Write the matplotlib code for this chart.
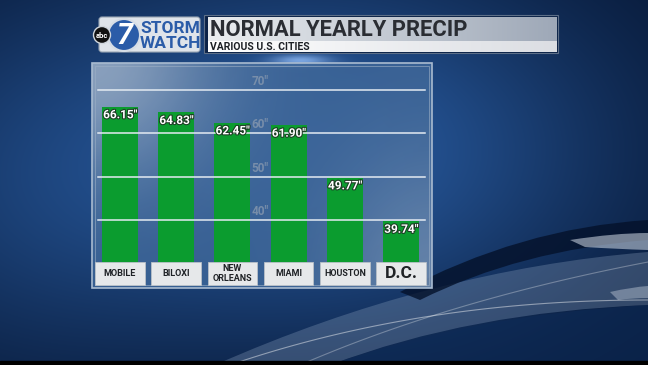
import numpy as np
import matplotlib.pyplot as plt
from matplotlib.patches import Rectangle, FancyBboxPatch, Circle, PathPatch
from matplotlib.path import Path
import matplotlib.patheffects as pe

W, H = 648, 365
FONT = 'Roboto'

CITIES = ['MOBILE', 'BILOXI', 'NEW\nORLEANS', 'MIAMI', 'HOUSTON', 'D.C.']
PRECIP = [66.15, 64.83, 62.45, 61.90, 49.77, 39.74]
VALUE_LABELS = ['66.15"', '64.83"', '62.45"', '61.90"', '49.77"', '39.74"']
GRID_VALUES = [40, 50, 60, 70]
GRID_LABELS = ['40"', '50"', '60"', '70"']

TITLE = 'NORMAL YEARLY PRECIP'
SUBTITLE = 'VARIOUS U.S. CITIES'

GREEN = '#0b9c2f'
NAVY = '#0b2247'
LOGO_BLUE = '#2b5ca8'

# panel in pixel coords (left, top, right, bottom)
PANEL = (92, 63, 432, 288)
BASE = 30.0


def lerp(c1, c2, t):
    c1 = np.array(c1)[None, None, :]
    c2 = np.array(c2)[None, None, :]
    return c1 + (c2 - c1) * t[..., None]


def make_background():
    x, y = np.meshgrid(np.arange(W), np.arange(H))
    dark = (0.02, 0.08, 0.19)
    bright = (0.15, 0.34, 0.60)
    glow = np.exp(-((x - 320) / 300.0) ** 2 - ((y - 150) / 190.0) ** 2)
    glow += 0.35 * np.exp(-((x - 0) / 200.0) ** 2 - ((y - 200) / 200.0) ** 2)
    glow = np.clip(glow, 0, 1)
    img = lerp(dark, bright, glow)
    # small glare above panel
    spot = np.exp(-((x - 300) / 30.0) ** 2 - ((y - 60) / 6.0) ** 2)
    img = img + 0.35 * spot[..., None]
    return np.clip(img, 0, 1)


def make_panel():
    l, t, r, b = PANEL
    x, y = np.meshgrid(np.linspace(0, 1, r - l), np.linspace(0, 1, b - t))
    light = (0.60, 0.68, 0.78)
    mid = (0.23, 0.39, 0.59)
    k1 = np.exp(-(x / 0.35) ** 2 - (y / 0.5) ** 2)
    k2 = 0.55 * np.exp(-((x - 1) / 0.3) ** 2 - ((y - 1) / 0.6) ** 2)
    img = lerp(mid, light, np.clip(k1 + k2, 0, 1))
    return img


def bezier_band(ax, top, bottom, color, alpha, z=1):
    verts = list(top) + list(bottom) + [top[0]]
    codes = [Path.MOVETO, Path.CURVE3, Path.CURVE3,
             Path.LINETO, Path.CURVE3, Path.CURVE3, Path.CLOSEPOLY]
    ax.add_patch(PathPatch(Path(verts, codes), facecolor=color,
                           edgecolor='none', alpha=alpha, zorder=z))


def draw_decor(ax):
    ax.imshow(make_background(), extent=(0, W, H, 0), aspect='auto',
              zorder=0)
    # swoosh at bottom right
    bezier_band(ax, [(215, 365), (430, 270), (648, 252)],
                [(648, 305), (470, 312), (330, 365)], '#8aa0bd', 0.32)
    bezier_band(ax, [(330, 365), (470, 315), (648, 305)],
                [(648, 365), (500, 365), (420, 365)], '#0d2b58', 0.5)
    bezier_band(ax, [(400, 292), (520, 228), (648, 220)],
                [(648, 240), (520, 250), (420, 300)], '#04112a', 0.8)
    bezier_band(ax, [(570, 240), (615, 233), (648, 233)],
                [(648, 250), (615, 249), (585, 247)], '#d2dbe6', 0.55)
    bezier_band(ax, [(610, 292), (632, 287), (648, 286)],
                [(648, 298), (632, 298), (618, 300)], '#d2dbe6', 0.4)
    t = np.linspace(0, 1, 50)
    for p0, p1, p2, a in [((230, 365), (420, 300), (648, 300), 0.45),
                          ((300, 365), (450, 300), (648, 262), 0.3)]:
        xs = (1 - t) ** 2 * p0[0] + 2 * (1 - t) * t * p1[0] + t ** 2 * p2[0]
        ys = (1 - t) ** 2 * p0[1] + 2 * (1 - t) * t * p1[1] + t ** 2 * p2[1]
        ax.plot(xs, ys, color='white', lw=0.8, alpha=a)
    ax.add_patch(Rectangle((0, 361), W, 4, color='black', zorder=2))

    # chart panel
    l, t_, r, b = PANEL
    ax.imshow(make_panel(), extent=(l, r, b, t_), aspect='auto', alpha=0.88,
              zorder=3)
    ax.add_patch(Rectangle((l, t_), r - l, b - t_, fill=False,
                           edgecolor='#a9bbd0', lw=1.2, zorder=4))
    ax.add_patch(Rectangle((l + 3, t_ + 3), r - l - 6, b - t_ - 6,
                           fill=False, edgecolor='#9db0c6', lw=0.6,
                           alpha=0.7, zorder=4))

    # logo box
    ax.add_patch(FancyBboxPatch((100, 18), 99, 33,
                                boxstyle='round,pad=1,rounding_size=3',
                                facecolor='#dfe4ea', edgecolor='#9aa6b4',
                                lw=0.8, zorder=5))
    ax.add_patch(Circle((124, 35), 16, facecolor=LOGO_BLUE,
                        edgecolor='#d6dde6', lw=1.5, zorder=6))
    ax.text(125, 36, '7', color='white', fontsize=21, fontweight='bold',
            family=FONT, ha='center', va='center', style='italic', zorder=7)
    ax.add_patch(Circle((102, 35), 8.5, facecolor='#111111',
                        edgecolor='#cfd5dc', lw=1, zorder=8))
    ax.text(102, 35.5, 'abc', color='white', fontsize=5.5,
            fontweight='bold', family=FONT, ha='center', va='center',
            zorder=9)
    ax.text(170.5, 36, 'STORM\nWATCH', color=LOGO_BLUE, fontsize=12.5,
            fontweight='bold', family=FONT, ha='center', va='center',
            linespacing=0.92, zorder=7)

    # title box
    ax.add_patch(Rectangle((204, 15), 354, 38, facecolor=NAVY,
                           edgecolor='#5d6f88', lw=0.8, zorder=5))
    xg = np.linspace(0, 1, 200)[None, :]
    grad = lerp((0.92, 0.93, 0.94), (0.62, 0.66, 0.72),
                np.repeat(xg, 2, axis=0))
    ax.imshow(grad, extent=(208, 557, 41, 17), aspect='auto', zorder=6)
    grad2 = lerp((1.0, 1.0, 1.0), (0.86, 0.87, 0.89),
                 np.repeat(xg, 2, axis=0))
    ax.imshow(grad2, extent=(208, 557, 52, 41), aspect='auto', zorder=6)
    ax.text(210, 30, TITLE, color='#2a2d33', fontsize=15.8,
            fontweight='bold', family=FONT, va='center', ha='left',
            zorder=7)
    ax.text(210, 46.5, SUBTITLE, color='#1c1f24', fontsize=7.5,
            fontweight='bold', family=FONT, va='center', ha='left',
            zorder=7)

    ax.set_xlim(0, W)
    ax.set_ylim(H, 0)
    ax.axis('off')


def draw_chart(ax):
    n = len(CITIES)
    xs = np.arange(n)
    # grid labels, behind bars
    for v, lab in zip(GRID_VALUES, GRID_LABELS):
        ax.text(2.49, v + 0.4, lab, color='#8b9bb0', alpha=0.75,
                fontsize=8.5, fontweight='bold', family=FONT,
                ha='center', va='bottom', zorder=1)
    heights = [p - BASE for p in PRECIP]
    ax.bar(xs, heights, bottom=BASE, width=0.64, color=GREEN, zorder=2)
    for v in GRID_VALUES:
        ax.axhline(v, xmin=0.018, xmax=0.979, color='#e4ebf2', lw=1.1,
                   zorder=3)
    for x, p, lab in zip(xs, PRECIP, VALUE_LABELS):
        ax.text(x - 0.30, p - 0.4, lab, color='white', fontsize=8.5,
                fontweight='bold', family=FONT, ha='left', va='top',
                zorder=4,
                path_effects=[pe.withStroke(linewidth=1.5,
                                            foreground='#1d3a24')])
    for x, city in zip(xs, CITIES):
        ax.add_patch(FancyBboxPatch((x - 0.44, 24.9), 0.88, 5.5,
                                    boxstyle='square,pad=0',
                                    facecolor='#e6e8ea',
                                    edgecolor='#b9c0c8', lw=0.6,
                                    zorder=5))
        big = city == 'D.C.'
        ax.text(x, 27.65, city, color='#1f2226',
                fontsize=12.5 if big else 6.5, fontweight='bold',
                family=FONT, ha='center', va='center', zorder=6,
                linespacing=1.05)
    ax.set_xlim(-0.498, 5.55)
    ax.set_ylim(24.3, 76.2)
    ax.axis('off')


if __name__ == '__main__':
    fig = plt.figure(figsize=(W / 100, H / 100), dpi=100)
    bg = fig.add_axes([0, 0, 1, 1])
    draw_decor(bg)
    l, t, r, b = PANEL
    ax = fig.add_axes([l / W, 1 - b / H, (r - l) / W, (b - t) / H])
    ax.patch.set_alpha(0)
    draw_chart(ax)
    fig.savefig('out.png', dpi=100)
